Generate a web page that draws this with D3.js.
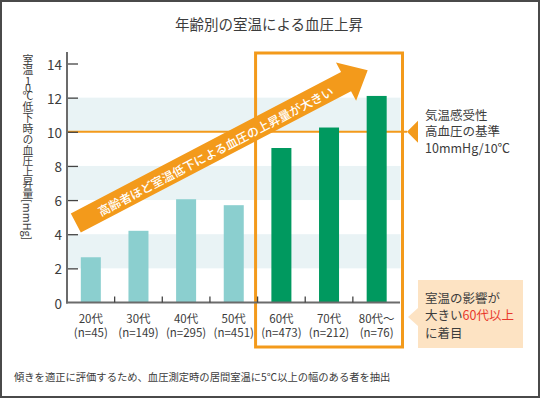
<!DOCTYPE html>
<html>
<head>
<meta charset="utf-8">
<script src="https://cdn.jsdelivr.net/npm/d3@7"></script>
<style>
  html, body { margin: 0; padding: 0; background: #fff; }
  svg { display: block; font-family: "Noto Sans CJK JP", "Noto Sans", sans-serif; }
</style>
</head>
<body>
<svg id="chart" width="540" height="398"></svg>
<script>
// ---- data ----
const categories = ["20代", "30代", "40代", "50代", "60代", "70代", "80代～"];
const sampleSizes = ["(n=45)", "(n=149)", "(n=295)", "(n=451)", "(n=473)", "(n=212)", "(n=76)"];
const values = [2.65, 4.2, 6.05, 5.7, 9.05, 10.25, 12.1];
const yTicks = [0, 2, 4, 6, 8, 10, 12, 14];
const shadedBands = [[2, 4], [6, 8], [10, 12]];
const threshold = 10;
const highlightCategories = ["60代", "70代", "80代～"];
const titleText = "年齢別の室温による血圧上昇";
const arrowText = "高齢者ほど室温低下による血圧の上昇量が大きい";
const thresholdNote = ["気温感受性", "高血圧の基準", "10mmHg/10℃"];
const footnote = "傾きを適正に評価するため、血圧測定時の居間室温に5℃以上の幅のある者を抽出";

// ---- styles ----
const C = {
  teal: "#8bcfcf", green: "#00995f", orange: "#f39a1b", band: "#e9f3f5",
  axis: "#6b6b6b", text: "#3c3c3c", callout: "#fde3c3", red: "#e8382c"
};

const svg = d3.select("#chart");

// border
svg.append("rect").attr("x", 1).attr("y", 1).attr("width", 538).attr("height", 396)
  .attr("fill", "#fff").attr("stroke", "#4a4a4a").attr("stroke-width", 2);

const x = d3.scaleBand().domain(categories).range([67, 400.5]).paddingInner(0.58).paddingOuter(0.29);
const y = d3.scaleLinear().domain([0, 14]).range([302.5, 63.5]);

// title
svg.append("text").attr("x", 269).attr("y", 23).attr("text-anchor", "middle")
  .attr("dominant-baseline", "central").attr("font-size", 14.5).attr("fill", C.text).text(titleText);

// shaded bands
svg.append("g").selectAll("rect").data(shadedBands).join("rect")
  .attr("x", 67).attr("width", 400.5 - 67)
  .attr("y", d => y(d[1])).attr("height", d => y(d[0]) - y(d[1]))
  .attr("fill", C.band);

// threshold line
svg.append("line").attr("x1", 67).attr("x2", 407).attr("y1", y(threshold)).attr("y2", y(threshold))
  .attr("stroke", C.orange).attr("stroke-width", 2);
// pointer triangle
const ty = y(threshold);
svg.append("path").attr("d", `M407,${ty} L418,${ty - 11} L418,${ty + 11} Z`).attr("fill", C.orange);

// highlight frame
const gap = (x.step() - x.bandwidth()) / 2;
const hx0 = x(highlightCategories[0]) - gap - 2;
const hx1 = x(highlightCategories[highlightCategories.length - 1]) + x.bandwidth() + gap + 2;
svg.append("rect").attr("x", hx0).attr("y", 53).attr("width", hx1 - hx0).attr("height", 347 - 53)
  .attr("fill", "none").attr("stroke", C.orange).attr("stroke-width", 3);

// bars
svg.append("g").selectAll("rect").data(values).join("rect")
  .attr("x", (d, i) => x(categories[i]))
  .attr("width", x.bandwidth())
  .attr("y", d => y(d))
  .attr("height", d => y(0) - y(d))
  .attr("fill", (d, i) => highlightCategories.includes(categories[i]) ? C.green : C.teal);

// y axis
const yAxis = d3.axisRight(y).tickValues(yTicks.filter(t => t > 0)).tickSize(11).tickFormat("");
const gy = svg.append("g").attr("transform", "translate(67,0)").call(yAxis);
gy.select(".domain").remove();
gy.selectAll(".tick line").attr("stroke", "#444").attr("stroke-width", 1.3);
svg.append("line").attr("x1", 67).attr("x2", 67).attr("y1", 52).attr("y2", y(0) + 1)
  .attr("stroke", C.axis).attr("stroke-width", 2);
svg.append("g").selectAll("text").data(yTicks).join("text")
  .attr("x", 62).attr("y", d => y(d)).attr("text-anchor", "end").attr("dominant-baseline", "central")
  .attr("font-size", 13.5).attr("fill", C.text).text(d => d);

// x axis
svg.append("line").attr("x1", 66).attr("x2", 400).attr("y1", y(0)).attr("y2", y(0))
  .attr("stroke", C.axis).attr("stroke-width", 2);
svg.append("g").selectAll("line").data(categories.slice(1)).join("line")
  .attr("x1", d => x(d) - gap).attr("x2", d => x(d) - gap)
  .attr("y1", y(0) - 6).attr("y2", y(0))
  .attr("stroke", "#444").attr("stroke-width", 1.3);
const xl = svg.append("g").selectAll("text").data(categories).join("text")
  .attr("text-anchor", "middle").attr("font-size", 11.5).attr("fill", C.text);
xl.append("tspan").attr("x", d => x(d) + x.bandwidth() / 2).attr("y", 323).text(d => d);
xl.append("tspan").attr("x", d => x(d) + x.bandwidth() / 2).attr("y", 337).text((d, i) => sampleSizes[i]);

// y axis title (vertical, with upright digits)
const ytg = svg.append("g").attr("font-size", 10.8).attr("fill", C.text);
ytg.append("text").attr("x", 28).attr("y", 54).style("writing-mode", "vertical-rl").text("室温");
const yd = ytg.append("text").attr("text-anchor", "middle").attr("dominant-baseline", "central");
yd.append("tspan").attr("x", 28).attr("y", 80).text("1");
yd.append("tspan").attr("x", 28).attr("y", 87).text("0");
ytg.append("text").attr("x", 28).attr("y", 91).style("writing-mode", "vertical-rl").text("℃低下時の血圧上昇量[mmHg]");

// big arrow
const p0 = [x(categories[0]) - 5, y(4.66)];
const p1 = [x(categories[6]) + 1, y(13.6)];
const ang = Math.atan2(p1[1] - p0[1], p1[0] - p0[0]) * 180 / Math.PI;
const len = Math.hypot(p1[0] - p0[0], p1[1] - p0[1]);
const headL = 24.4, headW = 21.7, bodyW = 10.8, lb = len - headL;
const ga = svg.append("g").attr("transform", `translate(${p0[0]},${p0[1]}) rotate(${ang})`);
ga.append("path")
  .attr("d", `M0,${-bodyW} L${lb},${-bodyW} L${lb},${-headW} L${len},0 L${lb},${headW} L${lb},${bodyW} L0,${bodyW} Z`)
  .attr("fill", C.orange);
ga.append("text").attr("x", 157).attr("y", 0.5).attr("text-anchor", "middle").attr("dominant-baseline", "central")
  .attr("font-size", 12).attr("font-weight", 500).attr("fill", "#fff").text(arrowText);

// threshold note (one text block)
const tn = svg.append("text").attr("font-size", 12.5).attr("fill", C.text);
tn.selectAll("tspan").data(thresholdNote).join("tspan")
  .attr("x", 425).attr("y", (d, i) => 119.5 + i * 16.5).text(d => d);

// callout
svg.append("rect").attr("x", 418).attr("y", 280).attr("width", 105).attr("height", 68).attr("fill", C.callout);
svg.append("path").attr("d", "M408,317 L418,308 L418,326 Z").attr("fill", C.callout);
const cl = svg.append("text").attr("font-size", 12.5).attr("fill", C.text);
cl.append("tspan").attr("x", 425).attr("y", 302.5).text("室温の影響が");
cl.append("tspan").attr("x", 425).attr("y", 320).text("大きい");
cl.append("tspan").attr("fill", C.red).text("60代以上");
cl.append("tspan").attr("x", 425).attr("y", 337.5).text("に着目");

// footnote
svg.append("text").attr("x", 14).attr("y", 376).attr("dominant-baseline", "central")
  .attr("font-size", 10.3).attr("fill", C.text).text(footnote);
</script>
</body>
</html>
